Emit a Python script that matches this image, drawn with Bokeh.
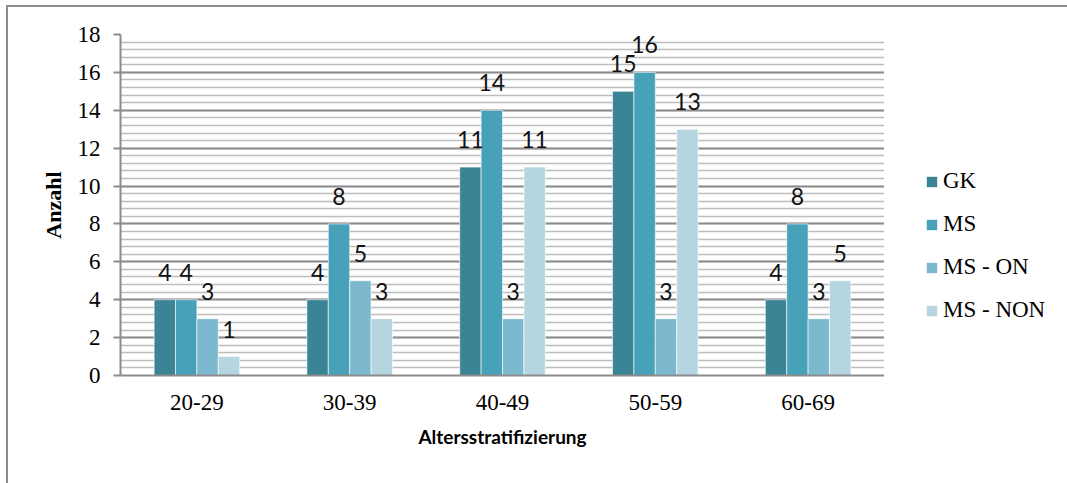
from bokeh.plotting import figure
from bokeh.layouts import row
from bokeh.models import (ColumnDataSource, FactorRange, Range1d, SingleIntervalTicker,
                          LabelSet, Legend, LegendItem)
from bokeh.transform import dodge
from bokeh.core.properties import value
from bokeh.embed import file_html
from bokeh.resources import INLINE

categories = ["20-29", "30-39", "40-49", "50-59", "60-69"]
series_names = ["GK", "MS", "MS - ON", "MS - NON"]
gk = [4, 4, 11, 15, 4]
ms = [4, 8, 14, 16, 8]
ms_on = [3, 5, 3, 3, 3]
ms_non = [1, 3, 11, 13, 5]
colors = ["#3a8496", "#47a1b8", "#7cb9ce", "#b5d5e0"]
y_ticks_step = 2

src = ColumnDataSource(dict(cat=categories, GK=gk, MS=ms, MS_ON=ms_on, MS_NON=ms_non))
fields = ["GK", "MS", "MS_ON", "MS_NON"]

SERIF = "Liberation Serif"
SANS = "Lato"

p = figure(width=876, height=476, x_range=FactorRange(*categories, range_padding=0),
           y_range=Range1d(0, 18), output_backend="svg", toolbar_location=None,
           min_border_left=112, min_border_top=27, min_border_right=0, min_border_bottom=108)
p.outline_line_color = None
p.background_fill_color = "white"
p.border_fill_color = "white"

w = 0.14
offsets = [-1.5 * w, -0.5 * w, 0.5 * w, 1.5 * w]
renderers = []
for f, off, c in zip(fields, offsets, colors):
    r = p.vbar(x=dodge("cat", off, range=p.x_range), top=f, width=w, source=src,
               fill_color=c, line_color="white", line_width=0.6)
    renderers.append(r)
    lbl = LabelSet(x=dodge("cat", off, range=p.x_range), y=f, text=f, source=src,
                   y_offset=19, text_align="center", text_baseline="alphabetic",
                   text_font=value(SANS), text_font_size="23px", text_color="#111111")
    p.add_layout(lbl)

# grid
p.xgrid.grid_line_color = None
p.yaxis.ticker = SingleIntervalTicker(interval=y_ticks_step, num_minor_ticks=5)
p.ygrid.grid_line_color = "#8c8c8c"
p.ygrid.grid_line_width = 2
p.ygrid.minor_grid_line_color = "#bdbdbd"
p.ygrid.minor_grid_line_width = 1.6
p.ygrid.level = "underlay"

# y axis
ya = p.yaxis[0]
ya.axis_line_color = "#8c8c8c"
ya.axis_line_width = 2
ya.major_tick_line_color = "#8c8c8c"
ya.major_tick_line_width = 2
ya.major_tick_out = 7
ya.major_tick_in = 0
ya.minor_tick_line_color = None
ya.major_label_standoff = 13
ya.major_label_text_font = SERIF
ya.major_label_text_font_size = "23px"
ya.major_label_text_color = "black"
ya.axis_label = "Anzahl"
ya.axis_label_text_font = SERIF
ya.axis_label_text_font_style = "bold"
ya.axis_label_text_font_size = "22px"
ya.axis_label_text_color = "black"
ya.axis_label_standoff = 9

# x axis
xa = p.xaxis[0]
xa.axis_line_color = "#8c8c8c"
xa.axis_line_width = 2
xa.major_tick_line_color = None
xa.major_tick_out = 0
xa.major_tick_in = 0
xa.minor_tick_line_color = None
xa.major_label_standoff = 19
xa.major_label_text_font = SERIF
xa.major_label_text_font_size = "23px"
xa.major_label_text_color = "black"
xa.axis_label = "Altersstratifizierung"
xa.axis_label_text_font = SANS
xa.axis_label_text_font_style = "bold"
xa.axis_label_text_font_size = "19px"
xa.axis_label_text_color = "black"
xa.axis_label_standoff = 12

# legend panel (separate figure next to the chart; its bars lie outside its visible range)
pl = figure(width=183, height=476, x_range=Range1d(-2, -1), y_range=Range1d(0, 1),
            output_backend="svg", toolbar_location=None,
            min_border_left=0, min_border_right=0, min_border_top=0, min_border_bottom=0)
pl.axis.visible = False
pl.grid.visible = False
pl.outline_line_color = None
pl.border_fill_color = "white"
leg_renderers = [pl.vbar(x=f, top=f, width=0.1, source=src, fill_color=c, line_color=None)
                 for f, c in zip(fields, colors)]
legend = Legend(items=[LegendItem(label=n, renderers=[r]) for n, r in zip(series_names, leg_renderers)],
                location=(41, 52), orientation="vertical",
                glyph_width=13, glyph_height=13, label_standoff=5, spacing=17,
                padding=0, margin=0, border_line_color=None, background_fill_alpha=0,
                label_text_font=SERIF, label_text_font_size="23px", label_text_color="black")
pl.add_layout(legend, "center")

layout = row(p, pl, spacing=0)
layout.styles = {"margin-left": "6px", "margin-top": "5px",
                 "border-left": "2px solid #8c8c8c", "border-top": "2px solid #8c8c8c"}

open("out.html", "w").write(file_html(layout, INLINE))
